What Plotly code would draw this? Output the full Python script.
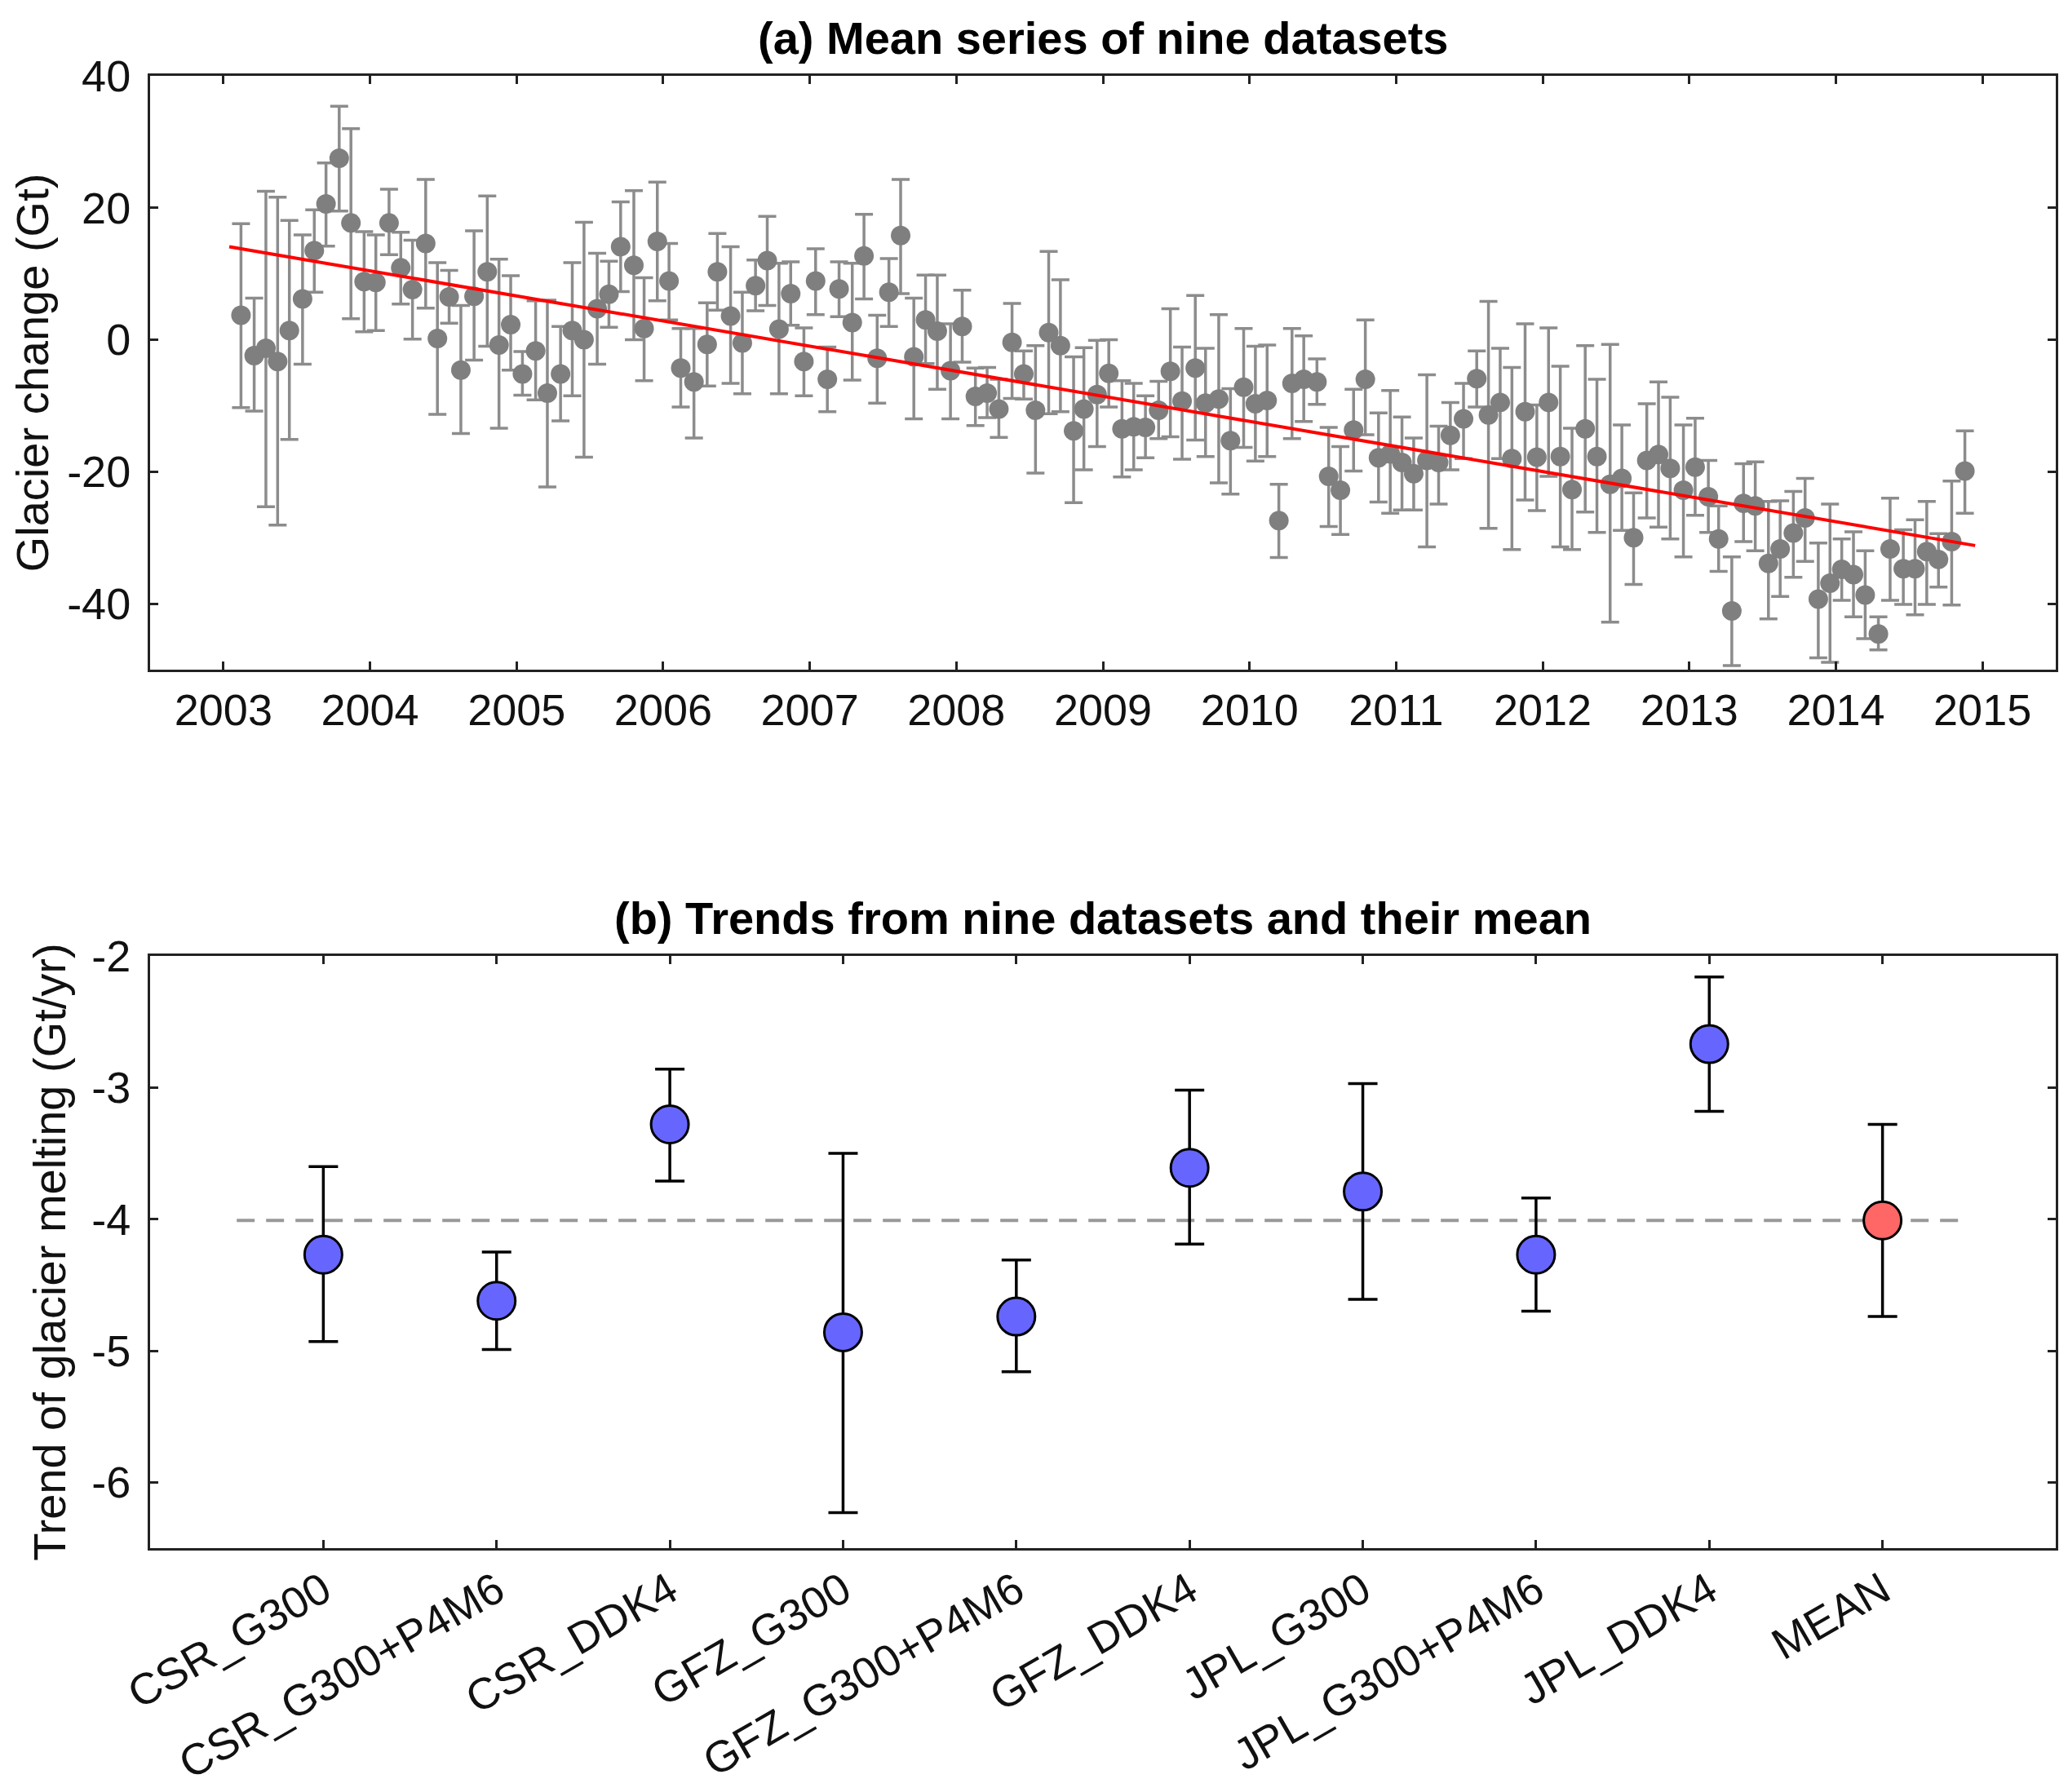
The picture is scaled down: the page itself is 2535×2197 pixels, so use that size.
import plotly.graph_objects as go

# ---- panel (a): mean series of nine datasets (decimal years, Gt) ----
years = [
    2003.12, 2003.21, 2003.29, 2003.37, 2003.45, 2003.54, 2003.62, 2003.70, 2003.79, 2003.87,
    2003.96, 2004.04, 2004.13, 2004.21, 2004.29, 2004.38, 2004.46, 2004.54, 2004.62, 2004.71,
    2004.80, 2004.88, 2004.96, 2005.04, 2005.13, 2005.21, 2005.30, 2005.38, 2005.46, 2005.55,
    2005.63, 2005.71, 2005.80, 2005.87, 2005.96, 2006.04, 2006.12, 2006.21, 2006.30, 2006.37,
    2006.46, 2006.54, 2006.63, 2006.71, 2006.79, 2006.87, 2006.96, 2007.04, 2007.12, 2007.20,
    2007.29, 2007.37, 2007.46, 2007.54, 2007.62, 2007.71, 2007.79, 2007.87, 2007.96, 2008.04,
    2008.13, 2008.21, 2008.29, 2008.38, 2008.46, 2008.54, 2008.63, 2008.71, 2008.80, 2008.87,
    2008.96, 2009.04, 2009.13, 2009.21, 2009.29, 2009.38, 2009.46, 2009.54, 2009.63, 2009.70,
    2009.79, 2009.87, 2009.96, 2010.04, 2010.12, 2010.20, 2010.29, 2010.37, 2010.46, 2010.54,
    2010.62, 2010.71, 2010.79, 2010.88, 2010.96, 2011.04, 2011.12, 2011.21, 2011.29, 2011.37,
    2011.46, 2011.55, 2011.63, 2011.71, 2011.79, 2011.88, 2011.96, 2012.04, 2012.12, 2012.20,
    2012.29, 2012.37, 2012.46, 2012.54, 2012.62, 2012.71, 2012.79, 2012.87, 2012.96, 2013.04,
    2013.13, 2013.20, 2013.29, 2013.37, 2013.45, 2013.54, 2013.62, 2013.71, 2013.79, 2013.88,
    2013.96, 2014.04, 2014.12, 2014.20, 2014.29, 2014.37, 2014.46, 2014.54, 2014.62, 2014.70,
    2014.79, 2014.88,
]
glacier_change = [
    3.7, -2.4, -1.3, -3.3, 1.4, 6.2, 13.5, 20.6, 27.5, 17.7,
    8.8, 8.7, 17.7, 10.9, 7.6, 14.6, 0.2, 6.5, -4.6, 6.6,
    10.3, -0.8, 2.3, -5.2, -1.7, -8.1, -5.2, 1.4, 0.0, 4.7,
    6.9, 14.1, 11.3, 1.7, 14.9, 8.9, -4.3, -6.4, -0.7, 10.3,
    3.6, -0.5, 8.2, 12.0, 1.6, 7.0, -3.3, 8.9, -6.0, 7.7,
    2.6, 12.7, -2.8, 7.2, 15.8, -2.6, 3.0, 1.3, -4.7, 2.0,
    -8.6, -8.1, -10.5, -0.4, -5.2, -10.7, 1.1, -0.9, -13.8, -10.5,
    -8.3, -5.1, -13.5, -13.2, -13.3, -10.7, -4.8, -9.3, -4.3, -9.6,
    -9.0, -15.3, -7.2, -9.7, -9.2, -27.4, -6.6, -6.0, -6.4, -20.7,
    -22.8, -13.7, -6.0, -17.9, -17.3, -18.6, -20.3, -18.3, -18.6, -14.5,
    -12.0, -5.9, -11.4, -9.5, -18.0, -10.9, -17.8, -9.5, -17.7, -22.7,
    -13.5, -17.7, -21.9, -21.0, -30.0, -18.3, -17.4, -19.5, -22.8, -19.3,
    -23.8, -30.2, -41.1, -24.8, -25.2, -33.9, -31.7, -29.3, -27.0, -39.3,
    -36.9, -34.8, -35.6, -38.7, -44.6, -31.7, -34.7, -34.7, -32.1, -33.3,
    -30.6, -19.9,
]
upper_bound = [
    17.6, 6.3, 22.5, 21.6, 18.1, 15.9, 19.7, 26.8, 35.4, 32.0,
    16.4, 15.9, 22.8, 16.3, 15.1, 24.3, 11.7, 10.5, 5.2, 16.5,
    21.8, 12.2, 9.7, -1.8, 5.9, 6.0, 2.0, 11.7, 17.8, 13.1,
    11.9, 20.9, 22.6, 9.4, 23.9, 14.6, 1.7, 1.7, 5.6, 16.1,
    14.1, 7.2, 12.1, 18.7, 11.6, 11.8, 1.8, 13.8, -1.1, 11.8,
    11.6, 19.0, 3.7, 12.3, 24.3, 6.3, 9.8, 9.8, 2.4, 7.5,
    -4.3, -4.2, -6.0, 5.5, -1.7, -0.9, 13.4, 9.1, -2.6, -1.2,
    -0.1, 0.0, -6.2, -6.6, -8.5, -6.3, 4.7, -1.1, 6.7, -1.3,
    3.8, -7.4, 1.7, -1.0, -0.8, -21.9, 1.7, 0.6, -2.9, -13.3,
    -16.2, -7.5, 3.0, -11.1, -7.7, -11.7, -14.9, -5.3, -13.1, -9.5,
    -6.6, -1.7, 5.8, -1.3, -4.2, 2.4, -9.9, 1.8, -4.0, -13.4,
    -0.9, -6.0, -0.7, -12.9, -23.2, -9.7, -6.4, -8.7, -12.9, -11.9,
    -18.3, -25.2, -32.9, -18.8, -18.5, -24.5, -24.4, -23.0, -21.0, -30.8,
    -24.9, -30.2, -29.1, -32.0, -42.0, -24.0, -28.8, -27.3, -24.5, -29.4,
    -21.4, -13.8,
]
lower_bound = [
    -10.3, -10.8, -25.3, -28.1, -15.1, -3.7, 7.2, 14.2, 19.5, 3.2,
    1.2, 1.4, 12.9, 5.4, 0.1, 4.8, -11.3, 2.5, -14.2, -3.1,
    -1.0, -13.4, -4.6, -8.4, -9.1, -22.3, -12.3, -8.5, -17.8, -3.7,
    1.9, 7.3, 0.0, -6.2, 5.9, 3.0, -10.2, -14.9, -7.0, 4.5,
    -6.6, -8.2, 4.4, 5.2, -8.2, 2.2, -8.5, 3.8, -10.9, 3.5,
    -6.1, 6.2, -9.6, 2.0, 7.0, -12.0, -3.6, -7.5, -12.0, -3.4,
    -13.0, -11.8, -14.8, -8.9, -9.0, -20.2, -11.2, -10.9, -24.7, -19.7,
    -16.2, -10.2, -20.8, -19.7, -17.9, -15.0, -14.7, -18.1, -15.2, -17.7,
    -21.7, -23.4, -16.3, -18.4, -17.7, -33.0, -15.0, -12.4, -9.8, -28.3,
    -29.5, -19.9, -14.4, -24.6, -26.3, -25.8, -25.8, -31.4, -24.9, -19.7,
    -18.0, -10.2, -28.6, -18.0, -31.8, -24.3, -25.9, -20.7, -31.4, -31.8,
    -26.1, -29.2, -42.8, -28.9, -37.1, -27.0, -28.4, -30.2, -32.9, -26.6,
    -29.2, -35.1, -49.4, -30.6, -32.0, -42.3, -38.9, -36.0, -33.6, -48.2,
    -48.9, -39.5, -42.0, -45.3, -47.0, -39.5, -40.1, -41.7, -40.1, -37.5,
    -40.2, -26.3,
]

# linear trend line end points
trend_years = [2003.04, 2014.95]
trend_values = [14.1, -31.2]

# ---- panel (b): trends from nine datasets and their mean (Gt/yr) ----
datasets = ["CSR_G300", "CSR_G300+P4M6", "CSR_DDK4", "GFZ_G300", "GFZ_G300+P4M6",
            "GFZ_DDK4", "JPL_G300", "JPL_G300+P4M6", "JPL_DDK4", "MEAN"]
trends = [-4.27, -4.62, -3.28, -4.86, -4.74, -3.61, -3.79, -4.27, -2.67, -4.01]
trend_upper = [-3.60, -4.25, -2.86, -3.50, -4.31, -3.02, -2.97, -3.84, -2.16, -3.28]
trend_lower = [-4.93, -4.99, -3.71, -6.23, -5.16, -4.19, -4.61, -4.70, -3.18, -4.74]
mean_trend = trends[-1]

# tick labels (plain hyphen minus as in the original)
year_ticks = list(range(2003, 2016))
gt_ticks = [-40, -20, 0, 20, 40]
rate_ticks = [-6, -5, -4, -3, -2]

err_up = [u - v for u, v in zip(upper_bound, glacier_change)]
err_down = [v - l for v, l in zip(glacier_change, lower_bound)]
terr_up = [u - v for u, v in zip(trend_upper, trends)]
terr_down = [v - l for v, l in zip(trends, trend_lower)]
idx = list(range(len(datasets)))

FONT = "Liberation Sans, Arial, Helvetica, sans-serif"
GRAY = "#7f7f7f"

fig = go.Figure()

fig.add_trace(go.Scatter(
    x=years, y=glacier_change, mode="markers",
    marker=dict(color=GRAY, size=24, line=dict(width=0)),
    error_y=dict(type="data", symmetric=False, array=err_up, arrayminus=err_down,
                 color="#8c8c8c", thickness=3.5, width=11),
    xaxis="x", yaxis="y", showlegend=False,
))
fig.add_trace(go.Scatter(
    x=trend_years, y=trend_values, mode="lines",
    line=dict(color="#ff0000", width=4),
    xaxis="x", yaxis="y", showlegend=False,
))

fig.add_trace(go.Scatter(
    x=[-0.5, 9.45], y=[mean_trend, mean_trend], mode="lines",
    line=dict(color="#999999", width=4, dash="22px,14px"),
    xaxis="x2", yaxis="y2", showlegend=False,
))
marker_colors = ["#6666ff"] * (len(datasets) - 1) + ["#ff6666"]
fig.add_trace(go.Scatter(
    x=idx, y=trends, mode="markers",
    marker=dict(color=marker_colors, size=46, line=dict(color="black", width=3)),
    error_y=dict(type="data", symmetric=False, array=terr_up, arrayminus=terr_down,
                 color="black", thickness=3.5, width=18),
    xaxis="x2", yaxis="y2", showlegend=False,
))

axis_common = dict(
    showline=True, linecolor="#222222", linewidth=3, mirror="ticks",
    ticks="inside", ticklen=10, tickwidth=2.5, tickcolor="#222222",
    showgrid=False, zeroline=False, automargin=False,
    tickfont=dict(family=FONT, size=54, color="#111111"),
)

fig.update_layout(
    width=2535, height=2197,
    margin=dict(l=176, r=23, t=85, b=307),
    paper_bgcolor="white", plot_bgcolor="white",
    xaxis=dict(domain=[0, 1], anchor="y", range=[2002.5, 2015.5],
               tickvals=year_ticks, ticktext=[str(v) for v in year_ticks],
               **axis_common),
    yaxis=dict(domain=[0.5967, 1], anchor="x", range=[-50, 40],
               tickvals=gt_ticks, ticktext=[str(v) for v in gt_ticks],
               ticklabelstandoff=10,
               title=dict(text="Glacier change (Gt)", standoff=14,
                          font=dict(family=FONT, size=56, color="#111111")),
               **axis_common),
    xaxis2=dict(domain=[0, 1], anchor="y2", range=[-1, 10],
                tickvals=idx, ticktext=datasets, tickangle=-30,
                ticklabelstandoff=-4,
                **{**axis_common, "tickfont": dict(family=FONT, size=54, color="#111111")}),
    yaxis2=dict(domain=[0, 0.4022], anchor="x2", range=[-6.5, -2],
                tickvals=rate_ticks, ticktext=[str(v) for v in rate_ticks],
                ticklabelstandoff=10,
                title=dict(text="Trend of glacier melting (Gt/yr)", standoff=14,
                           font=dict(family=FONT, size=56, color="#111111")),
                **axis_common),
    annotations=[
        dict(text="<b>(a) Mean series of nine datasets</b>", xref="paper", yref="paper",
             x=0.5, y=1.026, xanchor="center", yanchor="middle", showarrow=False,
             font=dict(family=FONT, size=56, color="black")),
        dict(text="<b>(b) Trends from nine datasets and their mean</b>", xref="paper", yref="paper",
             x=0.5, y=0.428, xanchor="center", yanchor="middle", showarrow=False,
             font=dict(family=FONT, size=56, color="black")),
    ],
)

fig.write_html("out.html")
